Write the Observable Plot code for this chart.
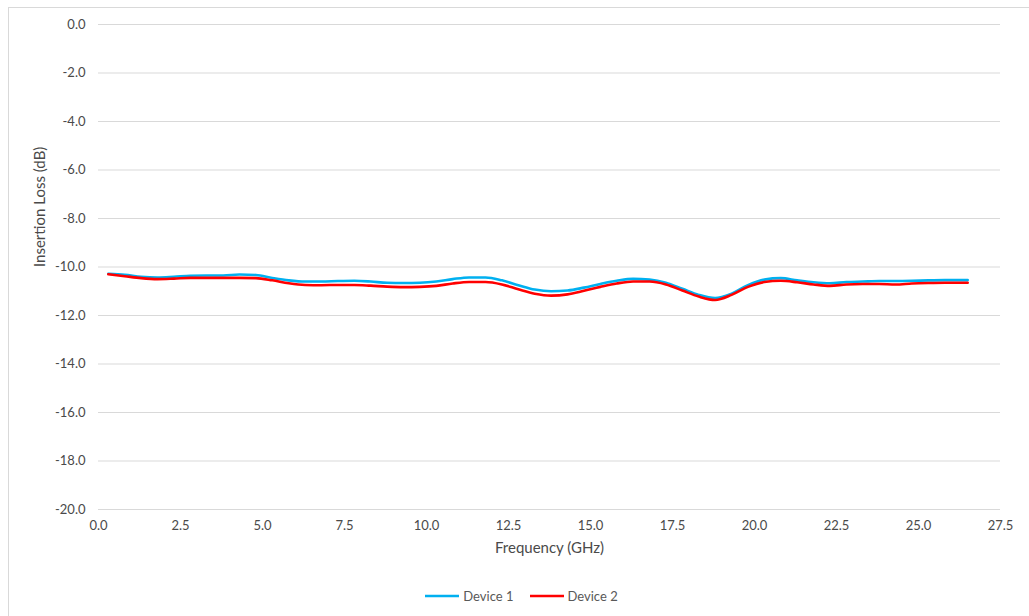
<!DOCTYPE html>
<html>
<head>
<meta charset="utf-8">
<script src="https://cdn.jsdelivr.net/npm/d3@7"></script>
<script src="https://cdn.jsdelivr.net/npm/@observablehq/plot@0.6"></script>
<style>
  html, body { margin: 0; padding: 0; background: #fff; }
  body { width: 1029px; height: 616px; position: relative; overflow: hidden; font-family: Lato, "Open Sans", sans-serif; }
  #frame { position: absolute; left: 8px; top: 7px; right: -2px; bottom: -2px; border-left: 1.5px solid #d9d9d9; border-top: 1.5px solid #d9d9d9; pointer-events: none; }
  #chart { position: absolute; left: 0; top: 0; }
  #legend { position: absolute; left: 0; top: 586px; width: 1029px; height: 20px; display: flex; justify-content: center; align-items: center; gap: 16px; font-size: 13px; color: #595959; padding-left: 14px; box-sizing: border-box; }
  #legend .item { display: flex; align-items: center; gap: 4px; }
</style>
</head>
<body>
<div id="frame"></div>
<div id="chart"></div>
<div id="legend"></div>
<script>
// Data
const seriesNames = ["Device 1", "Device 2"];
const seriesColors = ["#00b0f0", "#ff0000"];
const freqGHz = [0.3, 0.8, 1.3, 1.8, 2.3, 2.8, 3.3, 3.8, 4.3, 4.8, 5.3, 5.8, 6.3, 6.8, 7.3, 7.8, 8.3, 8.8, 9.3, 9.8,
  10.3, 10.8, 11.3, 11.8, 12.3, 12.8, 13.3, 13.8, 14.3, 14.8, 15.3, 15.8, 16.3, 16.8, 17.3, 17.8, 18.3, 18.8, 19.3, 19.8,
  20.3, 20.8, 21.3, 21.8, 22.3, 22.8, 23.3, 23.8, 24.3, 24.8, 25.3, 25.8, 26.3, 26.5];
const device1 = [-10.28, -10.32, -10.40, -10.43, -10.40, -10.36, -10.35, -10.35, -10.31, -10.33, -10.45, -10.55, -10.60, -10.60, -10.58, -10.57, -10.60, -10.65, -10.66, -10.65,
  -10.60, -10.50, -10.43, -10.43, -10.55, -10.75, -10.93, -11.00, -10.97, -10.85, -10.70, -10.57, -10.49, -10.52, -10.65, -10.90, -11.15, -11.28, -11.10, -10.75,
  -10.52, -10.46, -10.55, -10.63, -10.67, -10.62, -10.60, -10.58, -10.58, -10.57, -10.55, -10.54, -10.54, -10.54];
const device2 = [-10.30, -10.38, -10.46, -10.50, -10.48, -10.45, -10.45, -10.45, -10.45, -10.46, -10.55, -10.67, -10.74, -10.75, -10.74, -10.74, -10.77, -10.81, -10.83, -10.82,
  -10.78, -10.68, -10.62, -10.62, -10.72, -10.92, -11.10, -11.18, -11.13, -10.98, -10.82, -10.68, -10.60, -10.60, -10.72, -10.97, -11.22, -11.36, -11.15, -10.82,
  -10.62, -10.57, -10.63, -10.72, -10.78, -10.72, -10.70, -10.70, -10.72, -10.68, -10.66, -10.65, -10.65, -10.65];
const xTicks = [0, 2.5, 5, 7.5, 10, 12.5, 15, 17.5, 20, 22.5, 25, 27.5];
const yTicks = [0, -2, -4, -6, -8, -10, -12, -14, -16, -18, -20];
const xTitle = "Frequency (GHz)";
const yTitle = "Insertion Loss (dB)";

const rows = [];
[device1, device2].forEach((vals, si) => {
  vals.forEach((v, i) => rows.push({series: seriesNames[si], f: freqGHz[i], v}));
});
const fmt = d => d.toFixed(1);
const textColor = "#4a4a4a";

const chart = Plot.plot({
  width: 1029,
  height: 570,
  marginLeft: 98,
  marginRight: 29,
  marginTop: 24,
  marginBottom: 61,
  style: {fontFamily: "Lato, 'Open Sans', sans-serif", fontSize: "13px", color: textColor, background: "transparent"},
  x: {domain: [0, 27.5]},
  y: {domain: [-20, 0]},
  color: {domain: seriesNames, range: seriesColors},
  marks: [
    Plot.ruleY(yTicks, {stroke: "#d9d9d9", strokeWidth: 1.2}),
    Plot.axisX({ticks: xTicks, tickFormat: fmt, tickSize: 0, tickPadding: 11, label: null, fill: textColor}),
    Plot.axisY({ticks: yTicks, tickFormat: fmt, tickSize: 0, tickPadding: 13, label: null, fill: textColor}),
    Plot.line(rows, {x: "f", y: "v", z: "series", stroke: "series", strokeWidth: 2.6, curve: "monotone-x"}),
    Plot.text([xTitle], {frameAnchor: "bottom", dy: 43, fill: textColor, fontSize: 15}),
    Plot.text([yTitle], {frameAnchor: "left", dx: -58, rotate: -90, fill: textColor, fontSize: 15})
  ]
});
document.getElementById("chart").appendChild(chart);

const legend = document.getElementById("legend");
seriesNames.forEach((name, i) => {
  const item = document.createElement("div");
  item.className = "item";
  item.innerHTML = `<svg width="34" height="6"><line x1="0" x2="34" y1="3" y2="3" stroke="${seriesColors[i]}" stroke-width="2.6"/></svg><span>${name}</span>`;
  legend.appendChild(item);
});
</script>
</body>
</html>
